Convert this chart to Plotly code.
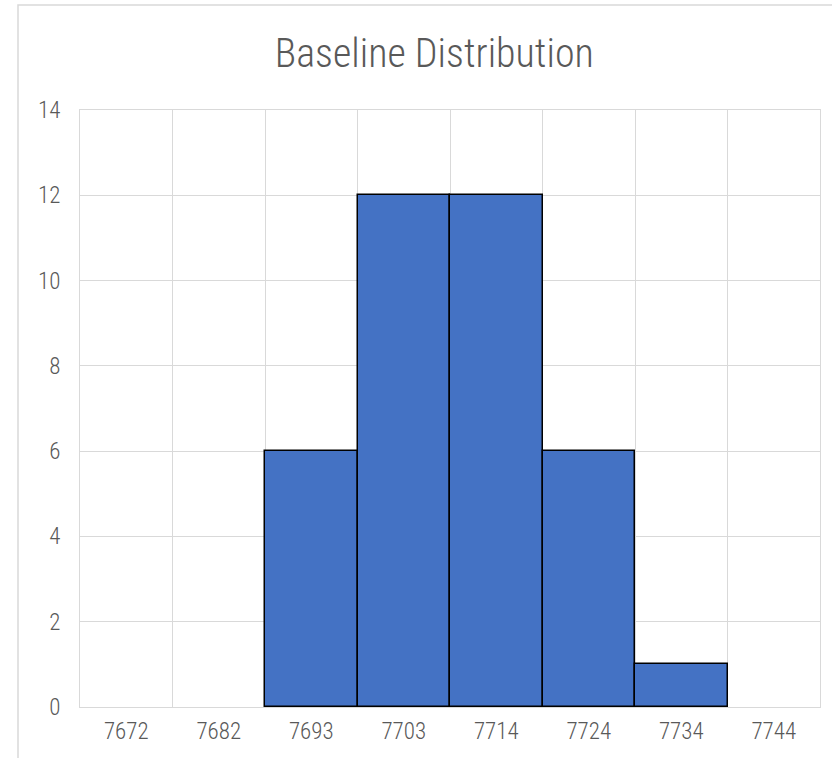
import plotly.graph_objects as go

categories = ["7672", "7682", "7693", "7703", "7714", "7724", "7734", "7744"]
counts = [0, 0, 6, 12, 12, 6, 1, 0]
y_ticks = [0, 2, 4, 6, 8, 10, 12, 14]

FONT = "Roboto Condensed, Liberation Sans Narrow, Roboto, sans-serif"
W, H = 832, 758
ML, MR, MT, MB = 80, 12, 110, 51
pw = W - ML - MR
ph = H - MT - MB

outline_w = [1.5 if c > 0 else 0 for c in counts]

fig = go.Figure(go.Bar(
    x=categories, y=counts,
    marker=dict(color="#4472C4", line=dict(color="#000000", width=outline_w)),
    hoverinfo="x+y",
))

fig.update_layout(
    width=W, height=H,
    margin=dict(l=ML, r=MR, t=MT, b=MB),
    paper_bgcolor="white", plot_bgcolor="white",
    bargap=0,
    showlegend=False,
    title=dict(text="Baseline Distribution", x=0.522, xanchor="center",
               y=1 - 53 / H, yanchor="middle",
               font=dict(family=FONT, size=40, color="#595959", weight=300)),
    font=dict(family=FONT, color="#595959", weight=300),
    xaxis=dict(type="category", tickson="boundaries", ticks="",
               showgrid=True, gridcolor="#d9d9d9", gridwidth=1,
               showline=True, linecolor="#d9d9d9", linewidth=1, mirror=True,
               tickfont=dict(size=23, color="#595959", weight=300), zeroline=False,
               ticklabelstandoff=3),
    yaxis=dict(range=[0, 14], tickvals=y_ticks, ticks="",
               showgrid=True, gridcolor="#d9d9d9", gridwidth=1,
               showline=True, linecolor="#d9d9d9", linewidth=1, mirror=True,
               zeroline=False,
               tickfont=dict(size=23, color="#595959", weight=300), ticklabelstandoff=14),
)

# outer chart frame
fig.add_shape(type="rect", xref="paper", yref="paper",
              x0=(18 - ML) / pw, x1=(W + 10 - ML) / pw,
              y0=-(MB + 10) / ph, y1=1 + (MT - 5) / ph,
              line=dict(color="#d9d9d9", width=1.5), fillcolor="rgba(0,0,0,0)",
              layer="below")

fig.write_html("out.html")
